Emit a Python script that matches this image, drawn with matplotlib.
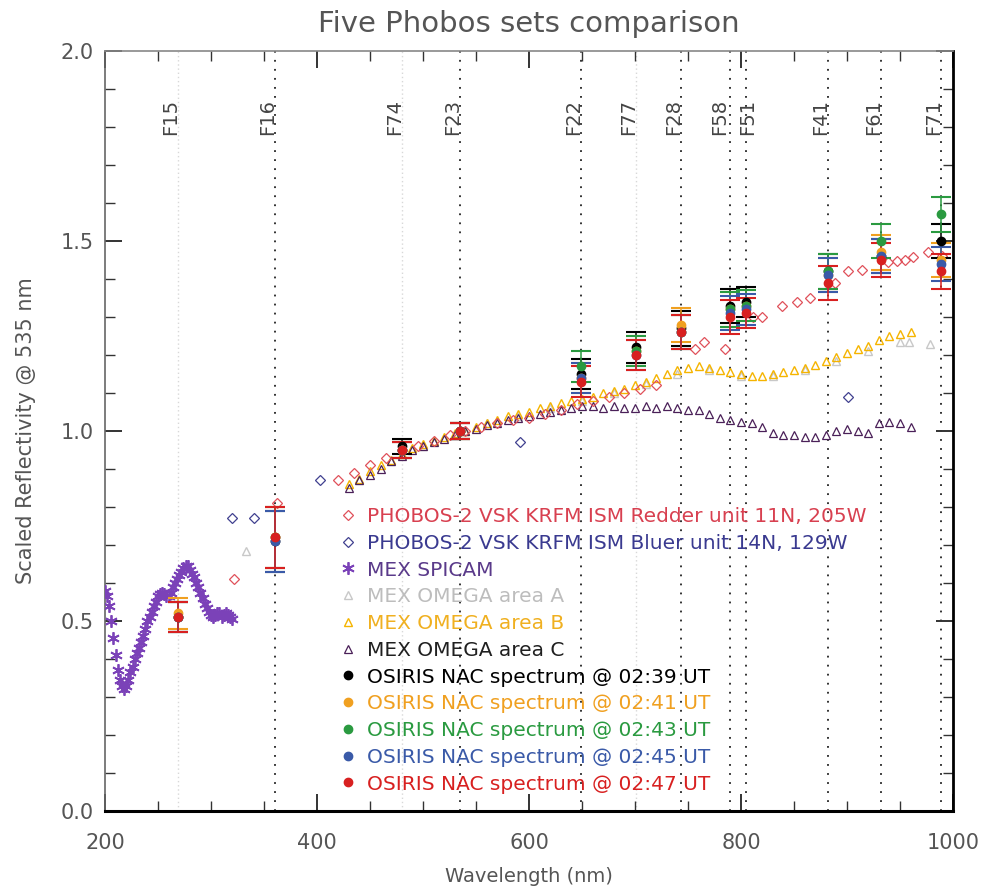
import matplotlib
matplotlib.use('Agg')
import matplotlib.pyplot as plt
from matplotlib.ticker import MultipleLocator, FixedLocator

plt.rcParams.update({
    'font.family': 'DejaVu Sans',
    'axes.linewidth': 1.2,
})

# --- OSIRIS NAC filters ---
filter_names = ['F15', 'F16', 'F74', 'F23', 'F22', 'F77', 'F28', 'F58', 'F51', 'F41', 'F61', 'F71']
filter_wl = [269, 360, 480, 535, 649, 701, 743, 790, 805, 882, 932, 989]
filter_faint = [True, False, True, False, False, True, False, False, False, False, False, False]

# --- OSIRIS NAC spectra (scaled at 535 nm) ---
osiris_black = [0.51, 0.71, 0.96, 1.00, 1.15, 1.22, 1.27, 1.33, 1.34, 1.42, 1.46, 1.50]
osiris_orange = [0.52, 0.72, 0.95, 1.00, 1.14, 1.21, 1.28, 1.32, 1.33, 1.41, 1.47, 1.45]
osiris_green = [0.51, 0.72, 0.95, 1.00, 1.17, 1.21, 1.26, 1.32, 1.33, 1.42, 1.50, 1.57]
osiris_blue = [0.51, 0.71, 0.95, 1.00, 1.14, 1.20, 1.26, 1.31, 1.32, 1.41, 1.46, 1.44]
osiris_red = [0.51, 0.72, 0.95, 1.00, 1.13, 1.20, 1.26, 1.30, 1.31, 1.39, 1.45, 1.42]
osiris_err = [0.04, 0.08, 0.02, 0.02, 0.04, 0.04, 0.045, 0.045, 0.04, 0.045, 0.045, 0.045]

# --- MEX SPICAM ---
spicam_wl = [200, 202, 204, 206, 208, 210, 212, 214, 216, 218, 220, 222, 224, 226, 228,
             230, 232, 234, 236, 238, 240, 242, 244, 246, 248, 250, 252, 254, 256, 258,
             260, 262, 264, 266, 268, 270, 272, 274, 276, 278, 280, 282, 284, 286, 288,
             290, 292, 294, 296, 298, 300, 302, 304, 306, 308, 310, 312, 314, 316, 318, 320]
spicam_val = [0.58, 0.565, 0.54, 0.50, 0.455, 0.41, 0.37, 0.345, 0.33, 0.32, 0.33, 0.345,
              0.365, 0.38, 0.40, 0.415, 0.43, 0.445, 0.46, 0.48, 0.50, 0.51, 0.525, 0.54,
              0.55, 0.565, 0.57, 0.575, 0.57, 0.565, 0.565, 0.575, 0.59, 0.60, 0.61, 0.62,
              0.63, 0.64, 0.645, 0.645, 0.635, 0.625, 0.615, 0.60, 0.59, 0.575, 0.56, 0.545,
              0.535, 0.525, 0.515, 0.51, 0.515, 0.52, 0.52, 0.51, 0.515, 0.52, 0.515, 0.51,
              0.505]

# --- PHOBOS-2 ISM ---
redder_wl = [322, 362, 420, 435, 450, 465, 480, 495, 510, 525, 540, 555, 570, 585, 600,
             615, 630, 645, 660, 675, 690, 705, 720, 757, 765, 785, 811, 820, 839, 853,
             865, 889, 901, 914, 939, 947, 955, 962, 976, 990]
redder_val = [0.61, 0.81, 0.87, 0.89, 0.91, 0.93, 0.95, 0.96, 0.975, 0.99, 1.0, 1.01,
              1.02, 1.03, 1.035, 1.045, 1.055, 1.07, 1.08, 1.09, 1.10, 1.11, 1.12, 1.215,
              1.235, 1.215, 1.30, 1.30, 1.33, 1.34, 1.35, 1.39, 1.42, 1.425, 1.445,
              1.447, 1.45, 1.457, 1.47, 1.46]
bluer_wl = [320, 341, 403, 591, 901]
bluer_val = [0.77, 0.77, 0.87, 0.97, 1.09]

# --- MEX OMEGA ---
omega_wl = [430, 440, 450, 460, 470, 480, 490, 500, 510, 520, 530, 540, 550, 560, 570,
            580, 590, 600, 610, 620, 630, 640, 650, 660, 670, 680, 690, 700, 710, 720,
            730, 740, 750, 760, 770, 780, 790, 800, 810, 820, 830, 840, 850, 860, 870,
            880, 890, 900, 910, 920, 930, 940, 950, 960]
omega_b = [0.86, 0.875, 0.895, 0.91, 0.925, 0.94, 0.955, 0.965, 0.975, 0.985, 0.995,
           1.0, 1.01, 1.02, 1.03, 1.04, 1.045, 1.05, 1.06, 1.065, 1.075, 1.08, 1.085,
           1.09, 1.10, 1.105, 1.11, 1.12, 1.13, 1.14, 1.15, 1.16, 1.165, 1.17, 1.165,
           1.16, 1.155, 1.15, 1.145, 1.145, 1.15, 1.155, 1.16, 1.165, 1.175, 1.185,
           1.195, 1.205, 1.215, 1.225, 1.24, 1.25, 1.255, 1.26]
omega_c = [0.85, 0.87, 0.885, 0.90, 0.92, 0.935, 0.95, 0.96, 0.97, 0.98, 0.99, 1.0,
           1.005, 1.015, 1.02, 1.03, 1.035, 1.04, 1.045, 1.05, 1.055, 1.06, 1.065,
           1.065, 1.06, 1.065, 1.06, 1.06, 1.065, 1.06, 1.065, 1.06, 1.055, 1.055,
           1.045, 1.035, 1.03, 1.025, 1.02, 1.01, 0.995, 0.99, 0.99, 0.985, 0.985,
           0.99, 1.0, 1.005, 1.0, 0.995, 1.02, 1.025, 1.02, 1.01]
omega_a_wl = [333, 440, 470, 500, 530, 560, 590, 620, 650, 680, 710, 740, 770, 800,
              830, 860, 890, 920, 950, 958, 978]
omega_a = [0.685, 0.87, 0.92, 0.96, 0.99, 1.02, 1.04, 1.06, 1.08, 1.10, 1.125, 1.15,
           1.16, 1.145, 1.145, 1.16, 1.185, 1.21, 1.235, 1.233, 1.23]

C_RED_D = '#e0505a'
C_BLUE_D = '#40408f'
C_SPICAM = '#7b42b8'
C_A = '#c8c8c8'
C_B = '#f5b400'
C_C = '#4a2058'
C_OS = ['#000000', '#f0a020', '#2a9a40', '#3a5aa8', '#d82020']
TXT = '#555555'

fig = plt.figure(figsize=(9.85, 8.92), dpi=100)
ax = fig.add_axes([0.1066, 0.0908, 0.861, 0.852])

# filter lines and names (F51 label sits on its line, the rest just left of it)
for name, wl, faint in zip(filter_names, filter_wl, filter_faint):
    if faint:
        ax.axvline(wl, color='#d8d8d8', lw=1.0, ls=(0, (1, 2)), zorder=1)
    else:
        ax.axvline(wl, color='#222222', lw=1.3, ls=(0, (1, 4)), zorder=1)
    off = {'F58': -10, 'F51': 1}.get(name, -7)
    ax.text(wl + off, 1.78, name, rotation=90, ha='center', va='bottom',
            fontsize=14, color='#444444')

h_a, = ax.plot(omega_a_wl, omega_a, ls='none', marker='^', ms=6, mfc='none',
               mec=C_A, mew=1.0, zorder=3, label='MEX OMEGA area A')
h_b, = ax.plot(omega_wl, omega_b, ls='none', marker='^', ms=6, mfc='none',
               mec=C_B, mew=1.0, zorder=3, label='MEX OMEGA area B')
h_c, = ax.plot(omega_wl, omega_c, ls='none', marker='^', ms=6, mfc='none',
               mec=C_C, mew=0.9, zorder=3, label='MEX OMEGA area C')
h_red, = ax.plot(redder_wl, redder_val, ls='none', marker='D', ms=5, mfc='none',
                 mec=C_RED_D, mew=0.9, zorder=4,
                 label='PHOBOS-2 VSK KRFM ISM Redder unit 11N, 205W')
h_blue, = ax.plot(bluer_wl, bluer_val, ls='none', marker='D', ms=5, mfc='none',
                  mec=C_BLUE_D, mew=0.9, zorder=4,
                  label='PHOBOS-2 VSK KRFM ISM Bluer unit 14N, 129W')
h_sp, = ax.plot(spicam_wl, spicam_val, ls='none', marker=(6, 2, 0), ms=9,
                mec=C_SPICAM, mew=1.3, zorder=4, label='MEX SPICAM')

osiris_sets = [osiris_black, osiris_orange, osiris_green, osiris_blue, osiris_red]
osiris_times = ['02:39', '02:41', '02:43', '02:45', '02:47']
h_os = []
for vals, c, t in zip(osiris_sets, C_OS, osiris_times):
    ax.errorbar(filter_wl, vals, yerr=osiris_err, fmt='none', ecolor=c,
                elinewidth=1.1, capsize=7, capthick=1.5, zorder=5)
for vals, c, t in zip(osiris_sets, C_OS, osiris_times):
    h, = ax.plot(filter_wl, vals, ls='none', marker='o', ms=6, mfc=c, mec=c,
                 zorder=6, label=f'OSIRIS NAC spectrum @ {t} UT')
    h_os.append(h)

handles = [h_red, h_blue, h_sp, h_a, h_b, h_c] + h_os
leg_colors = ['#d84050', '#3a3a90', '#5a3a8a', '#bdbdbd', '#f0b020', '#202020',
              '#000000', '#f0a020', '#2a9a40', '#3a5aa8', '#d82020']
ax.legend(handles=handles, loc='upper left', bbox_to_anchor=(0.277, 0.400),
          frameon=False, fontsize=14.5, handlelength=0.8, handletextpad=0.55,
          labelspacing=0.385, borderpad=0, borderaxespad=0, labelcolor=leg_colors)

ax.set_xlim(200, 1000)
ax.set_ylim(0, 2.0)
ax.xaxis.set_major_locator(FixedLocator([200, 400, 600, 800, 1000]))
ax.xaxis.set_minor_locator(MultipleLocator(50))
ax.yaxis.set_major_locator(FixedLocator([0.0, 0.5, 1.0, 1.5, 2.0]))
ax.yaxis.set_minor_locator(MultipleLocator(0.1))
ax.set_yticklabels(['0.0', '0.5', '1.0', '1.5', '2.0'])
ax.tick_params(which='both', direction='in', top=True, right=True,
               color='#333333', labelcolor=TXT, labelsize=15)
ax.tick_params(which='major', length=12, width=1.4)
ax.tick_params(which='minor', length=7, width=1.0)
ax.tick_params(axis='x', pad=16)
ax.tick_params(axis='y', pad=8)

ax.spines['bottom'].set_linewidth(2.2)
ax.spines['right'].set_linewidth(2.0)
ax.spines['top'].set_color('#888888')
ax.spines['left'].set_color('#666666')

ax.set_title('Five Phobos sets comparison', fontsize=21, color=TXT, pad=14)
ax.set_xlabel('Wavelength (nm)', fontsize=14, color=TXT, labelpad=10)
ax.set_ylabel('Scaled Reflectivity @ 535 nm', fontsize=15, color=TXT, labelpad=18)

plt.savefig('out.png', dpi=100, facecolor='white')
